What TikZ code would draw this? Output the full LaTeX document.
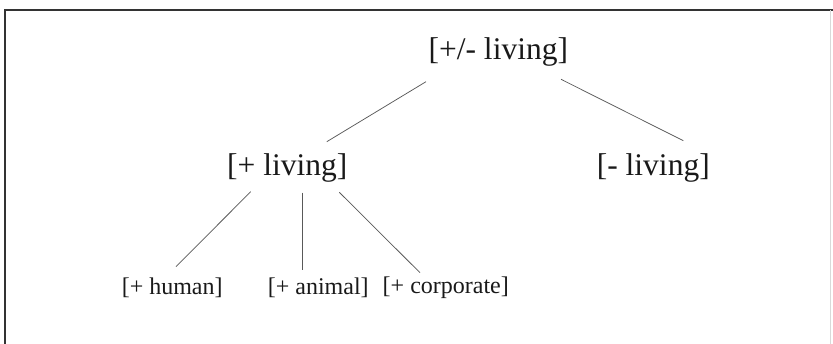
\documentclass[tikz,border=0pt]{standalone}
\usepackage{fontspec}
\setmainfont{Liberation Serif}
\begin{document}
\begin{tikzpicture}[x=1pt,y=1pt,
  big/.style={inner sep=0pt,font=\fontsize{31.5}{36}\selectfont,text=black!90},
  small/.style={inner sep=0pt,font=\fontsize{24}{28}\selectfont,text=black!90},
  edge/.style={draw=black!65,line width=0.75pt},
  frame/.style={draw=black!80,line width=1.3pt}]
\useasboundingbox (0,0) rectangle (833,344);
\draw[frame] (5,0) -- (5,334) -- (833,334);
\draw[draw=black!15,line width=0.6pt] (830,334) -- (830,0);
\node[big] (top) at (498.3,292.3) {[+/- living]};
\node[big] (plus) at (287.2,176) {[+ living]};
\node[big] (minus) at (653.3,176) {[- living]};
\node[small] (human) at (172.2,56.5) {[+ human]};
\node[small] (animal) at (318.3,56.5) {[+ animal]};
\node[small] (corp) at (445.8,56.5) {[+ corporate]};
\draw[edge] ([shift={(-72.3,-30)}]top.center) -- ([shift={(39.6,26.3)}]plus.center);
\draw[edge] ([shift={(62.7,-27.6)}]top.center) -- ([shift={(30,27.3)}]minus.center);
\draw[edge] ([shift={(-36.5,-23.7)}]plus.center) -- ([shift={(3.8,20.8)}]human.center);
\draw[edge] ([shift={(14.8,-24.7)}]plus.center) -- ([shift={(-16.3,17.5)}]animal.center);
\draw[edge] ([shift={(52.1,-24.3)}]plus.center) -- ([shift={(-25.8,14.8)}]corp.center);
\end{tikzpicture}
\end{document}
